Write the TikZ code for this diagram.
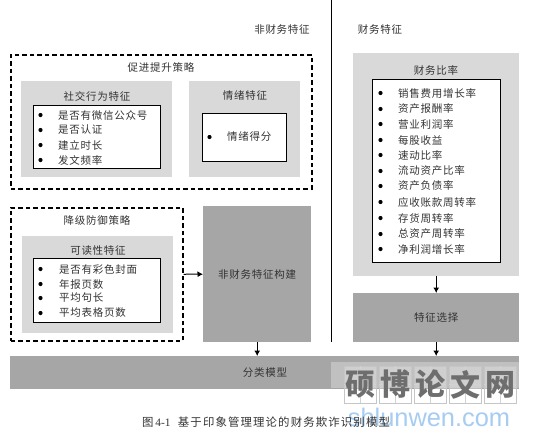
\documentclass[tikz,border=0pt]{standalone}
\usepackage{fontspec}
\setmainfont{Liberation Serif}
\newfontfamily\cjk{Noto Sans CJK SC}[LetterSpace=7]
\newfontfamily\cjkcap{Noto Sans CJK SC}[LetterSpace=10]
\newfontfamily\cjkwm{Noto Sans CJK SC}
\usetikzlibrary{arrows.meta}
\definecolor{lightg}{HTML}{D9D9D9}
\definecolor{darkg}{HTML}{A6A6A6}
\definecolor{txt}{HTML}{333333}
\definecolor{wmblue}{HTML}{A6CCF2}
\definecolor{wmgray}{HTML}{6E6E6E}
\tikzset{
  x=1pt,y=-1pt,
  boxat/.style n args={4}{minimum width=#3-#1,minimum height=#4-#2,inner sep=0pt,anchor=north west},
  lightbox/.style={fill=lightg,draw=none},
  darkbox/.style={fill=darkg,draw=none},
  listbox/.style={fill=white,draw=black,line width=1.4pt},
  dashbox/.style={draw=black,line width=1.5pt,dash pattern=on 4.5pt off 3pt},
  label/.style={font=\cjk\fontsize{10.5}{12}\selectfont,text=txt,inner sep=0pt},
  item/.style={label,anchor=west},
  dot/.style={circle,fill=black,inner sep=0pt,minimum size=4.2pt},
  arrow/.style={draw=black,line width=1pt,-{Latex[length=5.5pt,width=6pt]}},
  tile/.style={draw=gray!45,line width=0.5pt,minimum width=32pt,minimum height=37pt,inner sep=0pt,fill=white,fill opacity=0.25},
  wmchar/.style={font=\cjkwm\bfseries\fontsize{30}{32}\selectfont,text=wmgray,inner sep=0pt},
}
\begin{document}
\begin{tikzpicture}
\useasboundingbox (0,0) rectangle (533,437);
\fill[white] (0,0) rectangle (533,437);

% headers and divider
\node[label] (h1) at (282,30) {非财务特征};
\node[label] (h2) at (380,30) {财务特征};
\coordinate (divtop) at (331,0);
\coordinate (divbot) at (331,342);
\draw[black,line width=0.9pt] (divtop) -- (divbot);

% upper dashed group
\node[dashbox,boxat={10}{54}{311}{188}] (d1) at (10,54) {};
\node[label] (d1t) at (161,67) {促进提升策略};
\node[lightbox,boxat={21}{81}{172}{177}] (g1) at (21,81) {};
\node[label] (g1t) at (97,96) {社交行为特征};
\node[listbox,boxat={33}{105}{160}{168}] (w1) at (33,105) {};
\foreach \n/\y/\t in {a/115/是否有微信公众号,b/130/是否认证,c/145/建立时长,d/160/发文频率}{
  \node[dot] (w1\n) at (40.5,\y) {};
  \node[item] (w1\n t) at (58,\y) {\t};
}
\node[lightbox,boxat={189}{81}{300}{177}] (g2) at (189,81) {};
\node[label] (g2t) at (245,96) {情绪特征};
\node[listbox,boxat={202}{113}{286}{161}] (w2) at (202,113) {};
\node[dot] (w2a) at (209.5,137) {};
\node[item] (w2at) at (227,137) {情绪得分};

% lower dashed group
\node[dashbox,boxat={10}{207}{182}{340}] (d2) at (10,207) {};
\node[label] (d2t) at (97,220) {降级防御策略};
\node[lightbox,boxat={22}{236}{173}{333}] (g3) at (22,236) {};
\node[label] (g3t) at (98,251) {可读性特征};
\node[listbox,boxat={33}{258}{160}{322}] (w3) at (33,258) {};
\foreach \n/\y/\t in {a/269/是否有彩色封面,b/284/年报页数,c/298/平均句长,d/313/平均表格页数}{
  \node[dot] (w3\n) at (40.5,\y) {};
  \node[item] (w3\n t) at (59,\y) {\t};
}

% non-financial construction
\node[darkbox,boxat={203}{206}{311}{342}] (nf) at (203,206) {};
\node[label] at (nf.center) {非财务特征构建};

% financial column
\node[lightbox,boxat={353}{53}{519}{276}] (g4) at (353,53) {};
\node[label] (g4t) at (436,70) {财务比率};
\node[listbox,boxat={372}{79}{500}{262}] (w4) at (372,79) {};
\foreach \n/\y/\t in {a/93/销售费用增长率,b/109/资产报酬率,c/124/营业利润率,d/140/每股收益,e/155/速动比率,f/171/流动资产比率,g/186/资产负债率,h/202/应收账款周转率,i/218/存货周转率,j/234/总资产周转率,k/249/净利润增长率}{
  \node[dot] (w4\n) at (380.5,\y) {};
  \node[item] (w4\n t) at (398,\y) {\t};
}
\node[darkbox,boxat={353}{293}{519}{342}] (sel) at (353,293) {};
\node[label] at (sel.center) {特征选择};

% classification bar
\node[darkbox,boxat={10}{356}{519}{389}] (cls) at (10,356) {};
\node[label] (clst) at (265,373) {分类模型};

% connectors
\draw[arrow] (d2.east) -- (nf.west);
\draw[arrow] (nf.south) -- (nf.south |- cls.north);
\draw[arrow] (g4.south) -- (sel.north);
\draw[arrow] (sel.south) -- (sel.south |- cls.north);

% watermark
\fill[white,fill opacity=0.3] (331,362) rectangle (519,388);
\foreach \n/\x/\t in {1/360/硕,2/395/博,3/430/论,4/465/文,5/500/网}{
  \node[tile] (tile\n) at (\x,384.5) {};
  \draw[gray!35,line width=0.4pt] (tile\n.north) -- (tile\n.south) (tile\n.west) -- (tile\n.east);
  \node[wmchar] at (tile\n.center) {\t};
}
\node[font=\fontspec{Liberation Sans}\fontsize{25.4}{28}\selectfont,text=wmblue,inner sep=0pt] (wm) at (429,417.5) {shlunwen.com};

% caption
\node[inner sep=0pt,text=txt,font=\cjkcap\fontsize{11.4}{13}\selectfont] (cap) at (266,422) {图\,{\fontspec{Liberation Serif}4-1}\ \ 基于印象管理理论的财务欺诈识别模型};
\end{tikzpicture}
\end{document}
